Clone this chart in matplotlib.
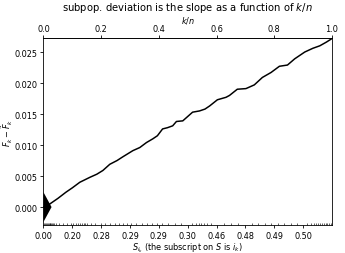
import matplotlib
matplotlib.use("Agg")
import matplotlib.pyplot as plt
import numpy as np

# cumulative deviation curve
kn = [0.0, 0.022, 0.050, 0.078, 0.100, 0.126, 0.161, 0.185, 0.206, 0.230, 0.255,
      0.275, 0.310, 0.334, 0.357, 0.379, 0.395, 0.413, 0.430, 0.448, 0.461,
      0.483, 0.500, 0.517, 0.541, 0.560, 0.576, 0.603, 0.633, 0.645, 0.672,
      0.702, 0.731, 0.759, 0.789, 0.818, 0.846, 0.871, 0.906, 0.934, 0.958,
      0.981, 0.998, 1.0]
dev = [0.0, 0.0005, 0.0014, 0.0024, 0.0031, 0.0040, 0.0048, 0.0053, 0.0059,
       0.0069, 0.0075, 0.0081, 0.0091, 0.0096, 0.0104, 0.0110, 0.0115, 0.0126,
       0.0128, 0.0131, 0.0138, 0.0139, 0.0146, 0.0153, 0.0155, 0.0158, 0.0163,
       0.0173, 0.0177, 0.0180, 0.0190, 0.0191, 0.0197, 0.0209, 0.0217, 0.0227,
       0.0229, 0.0239, 0.0250, 0.0256, 0.0260, 0.0266, 0.0271, 0.0272]

# scale indicator (2 * lenscale)
scale_half = 0.0024

# bottom tick labels (scores at quantiles)
major_pos = [0.0, 0.1, 0.2, 0.3, 0.4, 0.5, 0.6, 0.7, 0.8, 0.9]
major_lbl = ["0.00", "0.20", "0.28", "0.29", "0.29", "0.30", "0.46", "0.48", "0.49", "0.50"]

# minor tick positions (k/n of the scores)
minor_pos = [0.003, 0.006, 0.009, 0.012, 0.015, 0.018, 0.021, 0.024, 0.027, 0.030,
             0.034, 0.038, 0.042, 0.055, 0.068, 0.082, 0.095, 0.104, 0.112, 0.120,
             0.127, 0.133, 0.139, 0.145, 0.152, 0.165, 0.180, 0.198, 0.215, 0.232,
             0.248, 0.262, 0.276, 0.290, 0.305, 0.322, 0.340, 0.358, 0.375, 0.392,
             0.410, 0.432, 0.455, 0.478, 0.500, 0.515, 0.528, 0.538, 0.547, 0.556,
             0.566, 0.580, 0.600, 0.625, 0.650, 0.675, 0.700, 0.722, 0.745, 0.768,
             0.790, 0.812, 0.835, 0.858, 0.880, 0.900, 0.915, 0.928, 0.938, 0.946,
             0.953, 0.960, 0.966, 0.972, 0.978, 0.984, 0.990, 0.996]

top_ticks = [0.0, 0.2, 0.4, 0.6, 0.8, 1.0]

plt.rcParams['font.size'] = 10.8
plt.rcParams['axes.linewidth'] = 1.1

dpi = 54
fig = plt.figure(figsize=(345 / dpi, 254 / dpi), dpi=dpi)
ax = fig.add_axes([0.126, 0.110, 0.836, 0.735])

ax.plot(kn, dev, color='k', linewidth=2.0)
ax.fill([0, 0.028, 0], [scale_half, 0, -scale_half], color='k', linewidth=0)

ax.set_xlim(0, 1)
ax.set_ylim(-0.0029, 0.0272)
ax.set_xticks(major_pos)
ax.set_xticklabels(major_lbl)
ax.set_xticks(minor_pos, minor=True)
ax.tick_params(which='minor', axis='x', direction='in', length=3, width=0.8, color='k')
ax.tick_params(which='major', length=4, width=1.1)
ax.set_yticks([0.0, 0.005, 0.010, 0.015, 0.020, 0.025])
ax.set_xlabel(r'$S_{i_k}$ (the subscript on $S$ is $i_k$)', labelpad=1)
ax.set_ylabel(r'$F_k - \tilde{F}_k$', labelpad=0)

sec = ax.secondary_xaxis('top')
sec.set_xticks(top_ticks)
sec.tick_params(length=4, width=1.1)
sec.set_xlabel(r'$k/n$', labelpad=2)
ax.set_title(r'subpop. deviation is the slope as a function of $k/n$', pad=4,
             fontsize=13.4)

fig.savefig('out.png', dpi=dpi)
